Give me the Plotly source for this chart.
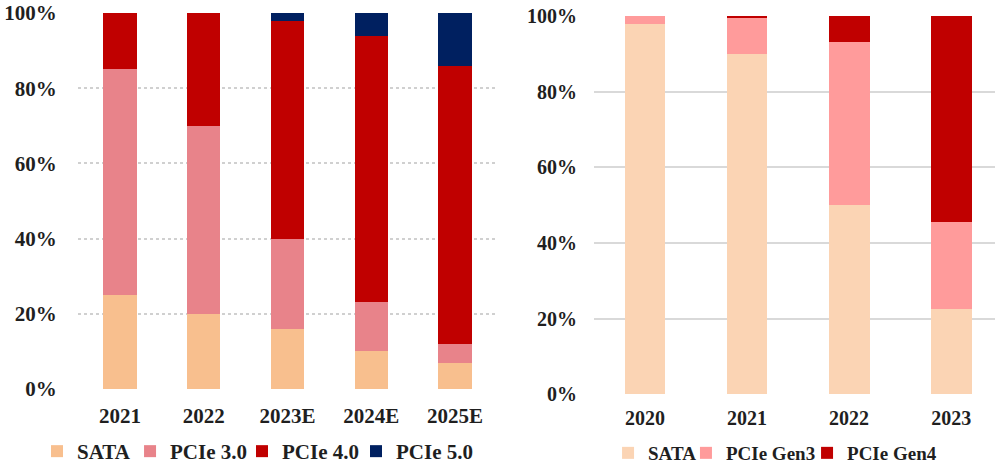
import plotly.graph_objects as go

# Left chart: SSD interface share by year
years_left = ["2021", "2022", "2023E", "2024E", "2025E"]
sata_left = [0.25, 0.20, 0.16, 0.10, 0.07]
pcie3_left = [0.60, 0.50, 0.24, 0.13, 0.05]
pcie4_left = [0.15, 0.30, 0.58, 0.71, 0.74]
pcie5_left = [0.00, 0.00, 0.02, 0.06, 0.14]

# Right chart: interface share by year
years_right = ["2020", "2021", "2022", "2023"]
sata_right = [0.98, 0.90, 0.50, 0.225]
gen3_right = [0.02, 0.095, 0.43, 0.23]
gen4_right = [0.00, 0.005, 0.07, 0.545]

FONT = "Liberation Serif, Times New Roman, serif"
TXT = "#1f1f1f"

font_l = dict(family=FONT, size=21, color=TXT, weight="bold")
font_r = dict(family=FONT, size=20, color=TXT, weight="bold")
font_lr = dict(family=FONT, size=19, color=TXT, weight="bold")

fig = go.Figure()

# each series gets its own legend box so the entries can be spaced freely
left_series = [
    ("SATA", sata_left, "#F8BF8E", 0.0372),
    ("PCIe 3.0", pcie3_left, "#E8838A", 0.1307),
    ("PCIe 4.0", pcie4_left, "#C00000", 0.2432),
    ("PCIe 5.0", pcie5_left, "#002060", 0.3578),
]
right_series = [
    ("SATA", sata_right, "#FBD4B4", 0.6111),
    ("PCIe Gen3", gen3_right, "#FF9B9B", 0.6894),
    ("PCIe Gen4", gen4_right, "#C00000", 0.8111),
]

legend_layout = {}
n = 0
for series, xa, ya, fnt in ((left_series, "x", "y", font_l),
                            (right_series, "x2", "y2", font_lr)):
    cats = years_left if xa == "x" else years_right
    for name, vals, col, lx in series:
        n += 1
        key = "legend" if n == 1 else f"legend{n}"
        fig.add_trace(go.Bar(x=cats, y=vals, name=name, marker_color=col,
                             marker_line_width=0, xaxis=xa, yaxis=ya, legend=key,
                             showlegend=True))
        legend_layout[key] = dict(orientation="h", x=lx, y=0.0, xanchor="left",
                                  yanchor="bottom", font=fnt, visible=True,
                                  bgcolor="rgba(0,0,0,0)", itemclick=False)

hidden_tick = dict(ticks="outside", tickcolor="rgba(0,0,0,0)", automargin=False)

fig.update_layout(
    width=995, height=472,
    margin=dict(l=0, r=0, t=0, b=0),
    showlegend=True,
    paper_bgcolor="white", plot_bgcolor="white",
    barmode="stack", bargap=0.6,
    font=dict(family=FONT, color=TXT),
    xaxis=dict(domain=[0.0784, 0.4995], anchor="y", type="category",
               range=[-0.5, 4.5], showgrid=False, showline=False,
               tickfont=font_l, ticklen=8, **hidden_tick),
    yaxis=dict(domain=[0.1759, 0.9725], anchor="x", range=[0, 1],
               tickvals=[0, 0.2, 0.4, 0.6, 0.8, 1.0], tickformat=".0%",
               showgrid=True, gridcolor="#D0D0D0", griddash="dot", gridwidth=1.5,
               zeroline=False, showline=False, tickfont=font_l,
               ticklen=16, **hidden_tick),
    xaxis2=dict(domain=[0.597, 1.0], anchor="y2", type="category",
                range=[-0.5, 3.43], showgrid=False, showline=False,
                tickfont=font_r, ticklen=6, **hidden_tick),
    yaxis2=dict(domain=[0.1646, 0.9661], anchor="x2", range=[0, 1],
                tickvals=[0, 0.2, 0.4, 0.6, 0.8, 1.0], tickformat=".0%",
                showgrid=True, gridcolor="#D9D9D9", gridwidth=1.5,
                zeroline=False, showline=False, tickfont=font_r,
                ticklen=12, **hidden_tick),
    **legend_layout,
)

fig.write_html("out.html")
